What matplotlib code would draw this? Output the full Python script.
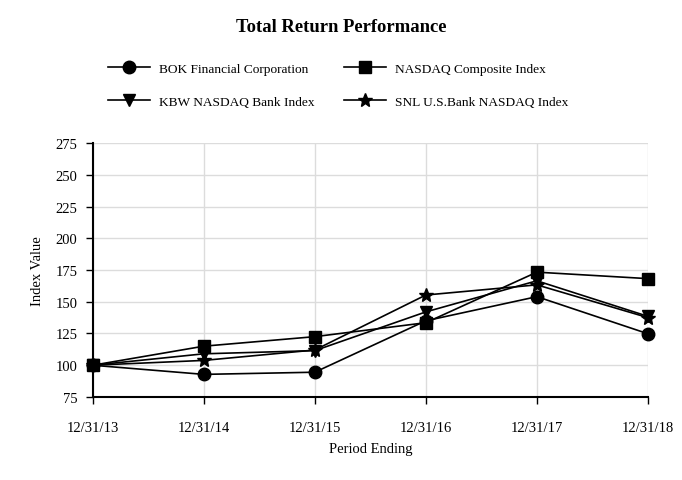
import matplotlib
matplotlib.use("Agg")
import matplotlib.pyplot as plt

periods = ["12/31/13", "12/31/14", "12/31/15", "12/31/16", "12/31/17", "12/31/18"]
bok = [100, 92.8, 94.5, 135, 154, 124.8]
nasdaq = [100, 115, 122.5, 133.5, 173.3, 168.2]
kbw = [100, 109, 111.5, 142, 166.5, 138.5]
snl = [100, 103.8, 112, 155.3, 163.3, 137.5]

series = [
    ("BOK Financial Corporation", bok, "o", 9),
    ("NASDAQ Composite Index", nasdaq, "s", 9),
    ("KBW NASDAQ Bank Index", kbw, "v", 9),
    ("SNL U.S.Bank NASDAQ Index", snl, "*", 10),
]

plt.rcParams['font.family'] = ['Liberation Serif', 'DejaVu Serif']
fig = plt.figure(figsize=(6.82, 4.81), dpi=100)
ax = fig.add_axes([0.136, 0.1726, 0.814, 0.528])

x = list(range(len(periods)))
handles = []
for name, vals, m, ms in series:
    h, = ax.plot(x, vals, color="black", lw=1.2, marker=m, markersize=ms,
                 markerfacecolor="black", markeredgecolor="black", label=name, clip_on=False, zorder=3)
    handles.append(h)

ax.set_xlim(0, 5)
ax.set_ylim(75, 275)
ax.set_yticks(range(75, 276, 25))
ax.set_xticks(x)
ax.set_xticklabels(periods)
ax.grid(True, color="#dcdcdc", lw=1)
ax.set_axisbelow(True)
for s in ["top", "right"]:
    ax.spines[s].set_visible(False)
ax.spines["left"].set_linewidth(1.5)
ax.spines["bottom"].set_linewidth(1.5)
ax.tick_params(axis="y", labelsize=10.5, length=5, width=1, pad=6)
ax.tick_params(axis="x", labelsize=10.5, length=5, width=1, pad=12)
ax.set_ylabel("Index Value", fontsize=10.5, labelpad=8)
ax.set_xlabel("Period Ending", fontsize=10.5, labelpad=6)

fig.text(0.5, 0.943, "Total Return Performance", ha="center", va="center",
         fontsize=13.4, fontweight="bold")

order = [handles[0], handles[2], handles[1], handles[3]]
leg = fig.legend(order, [h.get_label() for h in order], ncol=2, loc="upper left",
                 bbox_to_anchor=(0.141, 0.893), frameon=False, fontsize=9.6,
                 handlelength=3.15, labelspacing=1.55, columnspacing=2.2, handletextpad=0.67)

fig.savefig("out.png", dpi=100)
